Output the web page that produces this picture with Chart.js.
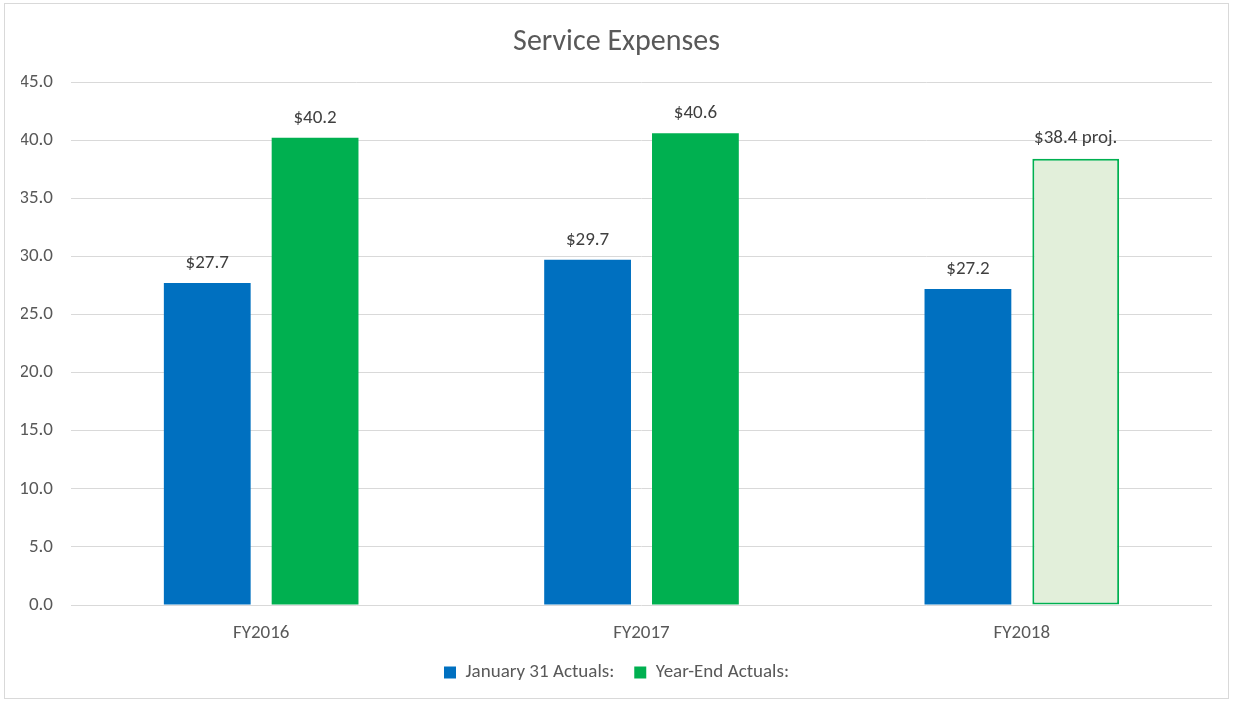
<!DOCTYPE html>
<html>
<head>
<meta charset="utf-8">
<script src="https://cdn.jsdelivr.net/npm/chart.js@4"></script>
<style>
    body { margin: 0; background: #fff; }
    #box {
        position: absolute; left: 4px; top: 3px; width: 1225px; height: 696px;
        border: 1px solid #d9d9d9; box-sizing: border-box;
    }
    canvas { display: block; }
</style>
</head>
<body>
<div id="box"><canvas id="chart" width="1223" height="694"></canvas></div>
<script>
    // Dữ liệu biểu đồ
    const categories = ["FY2016", "FY2017", "FY2018"];
    const januaryActuals = [27.7, 29.7, 27.2];
    const yearEndActuals = [40.2, 40.6, 38.4];
    const januaryLabels = ["$27.7", "$29.7", "$27.2"];
    const yearEndLabels = ["$40.2", "$40.6", "$38.4 proj."];
    const seriesNames = ["January 31 Actuals:", "Year-End Actuals:"];

    const FONT = "Carlito, Lato, 'Open Sans', sans-serif";

    // Plugin vẽ nhãn giá trị trên mỗi cột
    const valueLabels = {
        id: "valueLabels",
        afterDatasetsDraw(chart) {
            const ctx = chart.ctx;
            const texts = [januaryLabels, yearEndLabels];
            ctx.save();
            ctx.font = "19px " + FONT;
            ctx.fillStyle = "#404040";
            ctx.textAlign = "center";
            ctx.textBaseline = "middle";
            chart.data.datasets.forEach((ds, i) => {
                chart.getDatasetMeta(i).data.forEach((bar, j) => {
                    ctx.fillText(texts[i][j], bar.x, bar.y - 20);
                });
            });
            ctx.restore();
        }
    };

    new Chart(document.getElementById("chart").getContext("2d"), {
        type: "bar",
        data: {
            labels: categories,
            datasets: [{
                label: seriesNames[0],
                data: januaryActuals,
                backgroundColor: "#0070C0",
                categoryPercentage: 0.567,
                barPercentage: 0.805
            }, {
                label: seriesNames[1],
                data: yearEndActuals,
                backgroundColor: ["#00B050", "#00B050", "#E2EFDA"],
                borderColor: ["#00B050", "#00B050", "#00B050"],
                borderWidth: [0, 0, 2],
                borderSkipped: false,
                categoryPercentage: 0.567,
                barPercentage: 0.805
            }]
        },
        options: {
            responsive: false,
            animation: false,
            layout: { padding: { left: 16, right: 16, top: 0, bottom: 6 } },
            scales: {
                y: {
                    min: 0, max: 45,
                    afterFit: (s) => { s.width = 50; },
                    ticks: {
                        stepSize: 5,
                        padding: 18,
                        color: "#595959",
                        font: { family: FONT, size: 19 },
                        callback: (v) => v.toFixed(1)
                    },
                    grid: { color: "#d9d9d9", drawTicks: false },
                    border: { display: false }
                },
                x: {
                    afterFit: (s) => { s.height = 38; },
                    ticks: { padding: 9, color: "#595959", font: { family: FONT, size: 19 } },
                    grid: { display: false },
                    border: { display: false }
                }
            },
            plugins: {
                title: {
                    display: true,
                    text: "Service Expenses",
                    color: "#595959",
                    font: { family: FONT, size: 30, weight: "normal" },
                    padding: { top: 20, bottom: 22 }
                },
                legend: {
                    position: "bottom",
                    labels: {
                        boxWidth: 12,
                        boxHeight: 12,
                        padding: 20,
                        color: "#595959",
                        font: { family: FONT, size: 19 },
                        generateLabels: (chart) => chart.data.datasets.map((ds, i) => ({
                            text: ds.label,
                            fillStyle: i === 0 ? "#0070C0" : "#00B050",
                            strokeStyle: i === 0 ? "#0070C0" : "#00B050",
                            lineWidth: 0,
                            fontColor: "#595959",
                            datasetIndex: i
                        }))
                    }
                },
                tooltip: { enabled: false }
            }
        },
        plugins: [valueLabels]
    });
</script>
</body>
</html>
